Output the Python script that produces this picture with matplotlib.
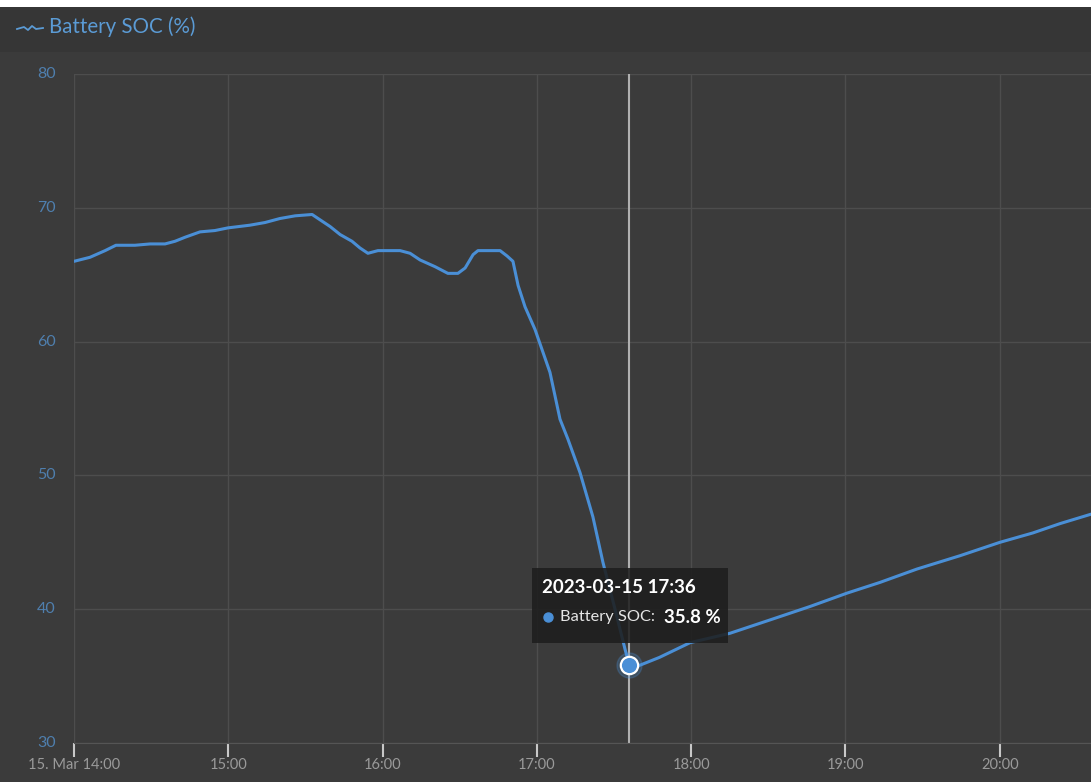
import numpy as np
import pandas as pd
import matplotlib
matplotlib.use("Agg")
import matplotlib.pyplot as plt
import matplotlib.dates as mdates
from matplotlib.patches import Rectangle
from matplotlib.transforms import ScaledTranslation
from matplotlib.lines import Line2D

plt.rcParams['font.family'] = ['Lato', 'DejaVu Sans']

# minutes after 15 Mar 14:00 and state of charge (%)
minutes = [0, 6.2, 12.1, 16.3, 23.7, 29.6, 35.4, 39.3, 43.2, 49.0, 54.8, 59.9,
           68.4, 74.3, 80.1, 86.0, 92.6, 95.7, 99.6, 103.5, 108.1, 111.2, 114.3,
           118.2, 126.8, 130.7, 134.6, 140.4, 145.4, 149.3, 152.1, 155.2, 157.1,
           165.7, 168.4, 170.7, 172.7, 175.4, 179.3, 185.1, 189.0, 192.1, 196.8,
           201.8, 205.7, 210.4, 214.3, 216.0, 219.9, 227.7, 239.6, 255.1, 270.7,
           286.2, 300.6, 313.4, 327.8, 344.6, 360.1, 372.9, 383.5, 395.5]
soc = [66.0, 66.3, 66.8, 67.2, 67.2, 67.3, 67.3, 67.5, 67.8, 68.2, 68.3, 68.5,
       68.7, 68.9, 69.2, 69.4, 69.5, 69.1, 68.6, 68.0, 67.5, 67.0, 66.6,
       66.8, 66.8, 66.6, 66.1, 65.6, 65.1, 65.1, 65.5, 66.5, 66.8,
       66.8, 66.4, 66.0, 64.2, 62.6, 60.9, 57.7, 54.2, 52.7, 50.2,
       46.9, 43.5, 40.0, 37.0, 35.8, 35.8, 36.4, 37.5, 38.2, 39.2,
       40.2, 41.2, 42.0, 43.0, 44.0, 45.0, 45.7, 46.4, 47.1]

start = pd.Timestamp("2023-03-15 14:00")
times = [start + pd.Timedelta(minutes=m) for m in minutes]
hl_time = pd.Timestamp("2023-03-15 17:36")
hl_value = 35.8
yticks = [30, 40, 50, 60, 70, 80]

bg = "#3b3b3b"
line_col = "#4a8fd6"

fig = plt.figure(figsize=(10.91, 7.82), dpi=100, facecolor=bg)
# header band
fig.patches.append(Rectangle((0, 1 - 52 / 782), 1, 45 / 782, transform=fig.transFigure,
                             facecolor="#363636", edgecolor="none", zorder=0))
fig.patches.append(Rectangle((0, 1 - 7 / 782), 1, 7 / 782, transform=fig.transFigure,
                             facecolor="white", edgecolor="none", zorder=0))
fig.lines.append(Line2D([17 / 1091, 24 / 1091, 28 / 1091, 32 / 1091, 36 / 1091, 43 / 1091],
                        [1 - 29 / 782, 1 - 27 / 782, 1 - 30 / 782, 1 - 26 / 782, 1 - 29 / 782, 1 - 28 / 782],
                        transform=fig.transFigure, color="#5b9bd5", lw=1.3))
fig.text(49 / 1091, 1 - 27 / 782, "Battery SOC (%)", color="#5b9bd5", fontsize=14.8,
         va="center", ha="left")

ax = fig.add_axes([74 / 1091, 1 - 743 / 782, 1017 / 1091, 669 / 782])
ax.set_facecolor(bg)
ax.plot(times, soc, color=line_col, lw=2.2, zorder=3, solid_joinstyle="round")

ax.set_ylim(30, 80)
ax.set_xlim(start, times[-1])
ax.set_yticks(yticks)
ax.xaxis.set_major_locator(mdates.HourLocator())


def fmt(x, pos):
    d = mdates.num2date(x)
    if d.hour == 14:
        return d.strftime("%d. %b %H:%M")
    return d.strftime("%H:%M")


ax.xaxis.set_major_formatter(plt.FuncFormatter(fmt))
ax.grid(True, color="#4d4d4d", lw=1)
ax.set_axisbelow(True)
for s in ["top", "right", "left"]:
    ax.spines[s].set_visible(False)
ax.spines["bottom"].set_color("#555555")
ax.tick_params(axis="x", colors="#c8c8c8", length=10, width=1.5, labelcolor="#9a9a9a",
               labelsize=10.5, pad=1)
ax.tick_params(axis="y", length=0, labelcolor="#4f7fae", labelsize=11.5, pad=13)
for lab in ax.get_yticklabels():
    lab.set_verticalalignment("center")

# crosshair and highlighted point
ax.axvline(hl_time, color="#b0b0b0", lw=1.5, zorder=2)
ax.plot([hl_time], [hl_value], "o", ms=18, color=line_col, alpha=0.25, zorder=4)
ax.plot([hl_time], [hl_value], "o", ms=12.5, color=line_col, mec="white", mew=1.6, zorder=5)

# tooltip placed relative to the highlighted point
tr = fig.dpi_scale_trans + ScaledTranslation(mdates.date2num(hl_time), hl_value, ax.transData)
ax.add_patch(Rectangle((-0.97, 0.22), 1.96, 0.75, transform=tr, facecolor="#1e1e1e",
                       alpha=0.88, edgecolor="none", zorder=6, clip_on=False))
ax.text(-0.87, 0.78, "2023-03-15 17:36", transform=tr, color="white", fontsize=13.5,
        fontweight="bold", va="center", ha="left", zorder=7)
ax.plot([-0.815], [0.48], "o", ms=6.5, color=line_col, transform=tr, zorder=7, clip_on=False)
t1 = ax.text(-0.69, 0.48, "Battery SOC: ", transform=tr, color="#e6e6e6", fontsize=11.8,
             va="center", ha="left", zorder=7)
ax.annotate("35.8 %", xy=(1, 0.5), xycoords=t1, xytext=(3, 0), textcoords="offset points",
            color="white", fontsize=13.5, fontweight="bold", va="center", ha="left", zorder=7)

fig.savefig("out.png", dpi=100, facecolor=bg)
